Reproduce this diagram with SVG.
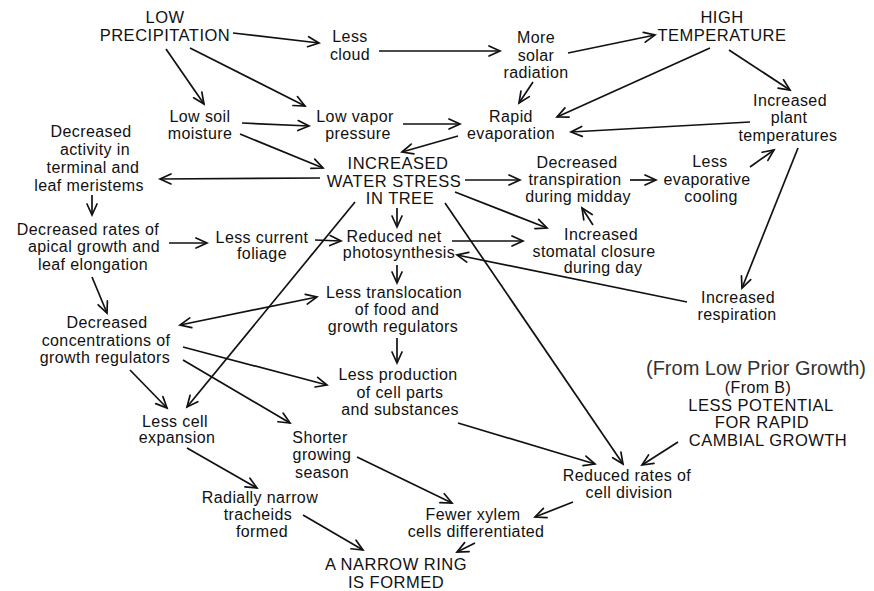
<svg xmlns="http://www.w3.org/2000/svg" width="874" height="591" viewBox="0 0 874 591">
<defs>
<style>
text{font-family:"Liberation Sans",Arial,sans-serif;fill:#111;text-anchor:middle}
.lc{font-size:16px;letter-spacing:0.4px}
.uc{font-size:16.5px;letter-spacing:0.5px}
.note{font-size:20px;fill:#333}
.c{stroke:#111;stroke-width:1.7;fill:none}
.ah{fill:none;stroke:#111;stroke-width:1.7;stroke-linejoin:miter;stroke-linecap:round}
</style>
<marker id="a" viewBox="-1 -1 14 12" refX="11" refY="5" markerWidth="14" markerHeight="12" markerUnits="userSpaceOnUse" orient="auto" overflow="visible">
<path class="ah" d="M0,0 L11,5 L0,10"/>
</marker>
<marker id="as" viewBox="-1 -1 14 12" refX="11" refY="5" markerWidth="14" markerHeight="12" markerUnits="userSpaceOnUse" orient="auto-start-reverse" overflow="visible">
<path class="ah" d="M0,0 L11,5 L0,10"/>
</marker>
</defs>
<rect width="874" height="591" fill="#fff"/>

<g id="connectors" class="c" marker-end="url(#a)">
<line x1="233" y1="33" x2="319" y2="43"/>
<line x1="166" y1="49" x2="204" y2="104"/>
<line x1="190" y1="48" x2="305" y2="106"/>
<line x1="379" y1="51" x2="500" y2="51"/>
<line x1="568" y1="53" x2="655" y2="35"/>
<line x1="533" y1="82" x2="519" y2="103"/>
<line x1="710" y1="48" x2="557" y2="117"/>
<line x1="729" y1="50" x2="790" y2="90"/>
<line x1="750" y1="122" x2="571" y2="132"/>
<line x1="242" y1="123" x2="309" y2="126"/>
<line x1="240" y1="134" x2="323" y2="168"/>
<line x1="403" y1="124" x2="460" y2="124"/>
<line x1="458" y1="136" x2="402" y2="152"/>
<line x1="320" y1="178" x2="160" y2="179"/>
<line x1="465" y1="180" x2="520" y2="180"/>
<line x1="630" y1="180" x2="656" y2="180"/>
<line x1="750" y1="167" x2="774" y2="150"/>
<line x1="798" y1="148" x2="742" y2="288"/>
<line x1="455" y1="192" x2="547" y2="228"/>
<line x1="593" y1="225" x2="582" y2="208"/>
<line x1="452" y1="241" x2="523" y2="241"/>
<line x1="687" y1="302" x2="457" y2="255"/>
<line x1="397" y1="208" x2="397" y2="227"/>
<line x1="92" y1="195" x2="92" y2="215"/>
<line x1="169" y1="243" x2="207" y2="243"/>
<line x1="315" y1="240" x2="341" y2="241"/>
<line x1="355" y1="202" x2="187" y2="407"/>
<line x1="180" y1="325" x2="317" y2="297" marker-start="url(#as)"/>
<line x1="397" y1="265" x2="397" y2="283"/>
<line x1="397" y1="338" x2="397" y2="363"/>
<line x1="183" y1="347" x2="327" y2="385"/>
<line x1="183" y1="360" x2="290" y2="423"/>
<line x1="130" y1="370" x2="167" y2="408"/>
<line x1="92" y1="277" x2="107" y2="313"/>
<line x1="187" y1="448" x2="257" y2="488"/>
<line x1="357" y1="457" x2="452" y2="503"/>
<line x1="303" y1="515" x2="363" y2="550"/>
<line x1="475" y1="543" x2="457" y2="552"/>
<line x1="573" y1="502" x2="535" y2="517"/>
<line x1="458" y1="423" x2="595" y2="464"/>
<line x1="445" y1="203" x2="623" y2="464"/>
<line x1="678" y1="442" x2="642" y2="465"/>
</g>

<g id="low-precipitation" class="uc"><text x="165" y="23">LOW</text><text x="165" y="41">PRECIPITATION</text></g>
<g id="less-cloud" class="lc"><text x="350" y="42">Less</text><text x="350" y="60">cloud</text></g>
<g id="more-solar" class="lc"><text x="536" y="43">More</text><text x="536" y="61">solar</text><text x="536" y="78">radiation</text></g>
<g id="high-temperature" class="uc"><text x="722" y="23">HIGH</text><text x="722" y="41">TEMPERATURE</text></g>
<g id="low-soil" class="lc"><text x="200" y="122">Low soil</text><text x="200" y="139">moisture</text></g>
<g id="low-vapor" class="lc"><text x="355" y="122">Low vapor</text><text x="358" y="139">pressure</text></g>
<g id="rapid-evaporation" class="lc"><text x="511" y="122">Rapid</text><text x="511" y="139">evaporation</text></g>
<g id="plant-temperatures" class="lc"><text x="790" y="106">Increased</text><text x="789" y="123">plant</text><text x="788" y="141">temperatures</text></g>
<g id="decreased-activity" class="lc"><text x="91" y="137">Decreased</text><text x="95" y="155">activity in</text><text x="93" y="173">terminal and</text><text x="89" y="191">leaf meristems</text></g>
<g id="water-stress" class="uc"><text x="398" y="169">INCREASED</text><text x="394" y="186.5">WATER STRESS</text><text x="400" y="204">IN TREE</text></g>
<g id="decreased-transpiration" class="lc"><text x="577" y="168">Decreased</text><text x="575" y="185">transpiration</text><text x="578" y="202">during midday</text></g>
<g id="evaporative-cooling" class="lc"><text x="710" y="167">Less</text><text x="707" y="185">evaporative</text><text x="711" y="202">cooling</text></g>
<g id="stomatal-closure" class="lc"><text x="601" y="240">Increased</text><text x="594" y="257">stomatal closure</text><text x="603" y="273">during day</text></g>
<g id="apical-growth" class="lc"><text x="88" y="235">Decreased rates of</text><text x="94" y="252">apical growth and</text><text x="93" y="270">leaf elongation</text></g>
<g id="current-foliage" class="lc"><text x="262" y="243">Less current</text><text x="262" y="259">foliage</text></g>
<g id="net-photosynthesis" class="lc"><text x="394" y="242">Reduced net</text><text x="399" y="258">photosynthesis</text></g>
<g id="translocation" class="lc"><text x="394" y="298">Less translocation</text><text x="397" y="315">of food and</text><text x="393" y="332">growth regulators</text></g>
<g id="production" class="lc"><text x="398" y="380">Less production</text><text x="400" y="398">of cell parts</text><text x="400" y="415">and substances</text></g>
<g id="concentrations" class="lc"><text x="107" y="328">Decreased</text><text x="106" y="346">concentrations of</text><text x="105" y="363">growth regulators</text></g>
<g id="respiration" class="lc"><text x="738" y="303">Increased</text><text x="737" y="320">respiration</text></g>
<g id="prior-growth">
<text class="note" x="756" y="375">(From Low Prior Growth)</text>
<text class="lc" x="758" y="392.5">(From B)</text>
<text class="uc" x="761" y="410.5">LESS POTENTIAL</text>
<text class="uc" x="762" y="428">FOR RAPID</text>
<text class="uc" x="768" y="445.5">CAMBIAL GROWTH</text>
</g>
<g id="cell-division" class="lc"><text x="627" y="481">Reduced rates of</text><text x="629" y="498">cell division</text></g>
<g id="cell-expansion" class="lc"><text x="175" y="427">Less cell</text><text x="177" y="443">expansion</text></g>
<g id="growing-season" class="lc"><text x="320" y="443">Shorter</text><text x="322" y="460">growing</text><text x="322" y="478">season</text></g>
<g id="narrow-tracheids" class="lc"><text x="260" y="503">Radially narrow</text><text x="258" y="520">tracheids</text><text x="262" y="537">formed</text></g>
<g id="fewer-xylem" class="lc"><text x="473" y="520">Fewer xylem</text><text x="476" y="537">cells differentiated</text></g>
<g id="narrow-ring" class="uc"><text x="396" y="570">A NARROW RING</text><text x="396" y="588">IS FORMED</text></g>
</svg>
